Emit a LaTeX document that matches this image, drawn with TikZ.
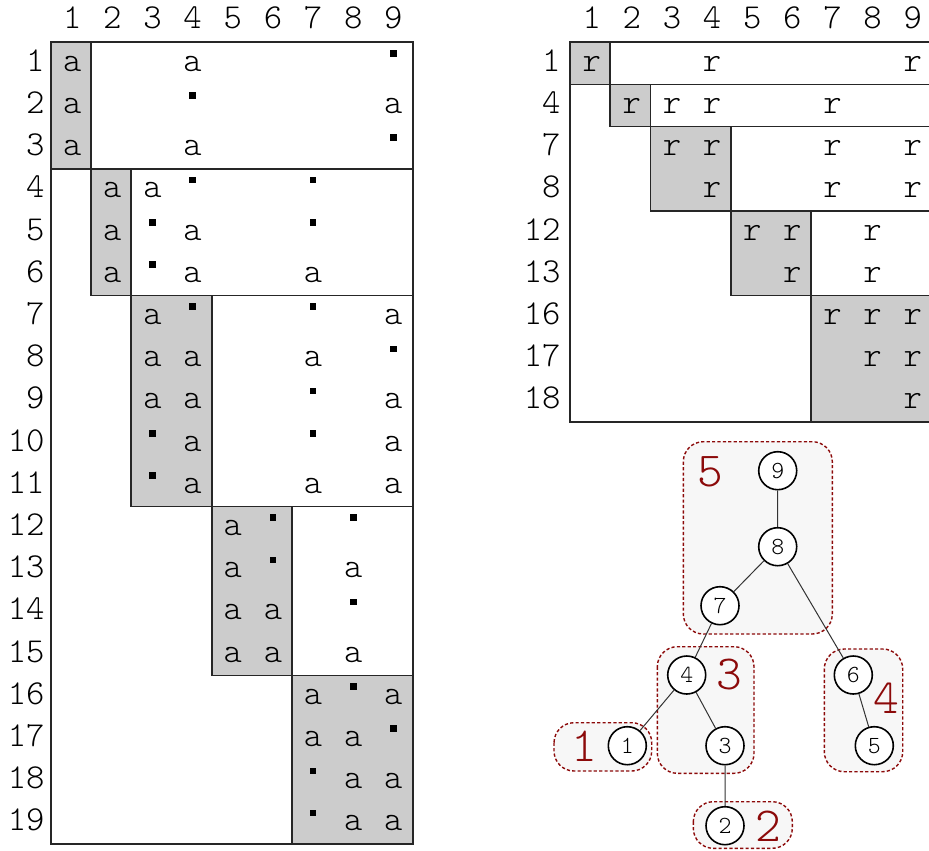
\documentclass[tikz,border=0pt]{standalone}
\usetikzlibrary{positioning,backgrounds}
\definecolor{blockgray}{gray}{0.8}
\definecolor{grpred}{RGB}{140,10,10}
\definecolor{grpfill}{gray}{0.97}
\definecolor{rule}{gray}{0.15}
\tikzset{
  ent/.style={font=\ttfamily\fontseries{l}\fontsize{17.5}{17.5}\selectfont,inner sep=0pt,anchor=base},
  rowlbl/.style={ent,anchor=base east},
  sqdot/.style={fill=black,inner sep=0pt,minimum size=3.3pt},
  band/.style={draw=rule,line width=0.8pt},
  vtx/.style={circle,draw=black,fill=white,line width=0.8pt,minimum size=19pt,inner sep=0pt,
    font=\ttfamily\fontseries{l}\fontsize{12.3}{12.3}\selectfont},
  tedge/.style={draw=black!80,line width=0.5pt},
  grp/.style={draw=grpred,dash pattern=on 1.6pt off 1.1pt,line width=0.7pt,fill=grpfill,rounded corners=10pt},
  grplbl/.style={text=grpred,inner sep=0pt,font=\ttfamily\fontseries{l}\fontsize{24.5}{24.5}\selectfont},
}

\begin{document}
\begin{tikzpicture}[x=0.5pt,y=-0.5pt,on grid]
  \clip (0,0) rectangle (929,850);

  % left matrix: supernode blocks
  \foreach \rs/\re/\cs/\ce in {1/3/1/1,4/6/2/2,7/11/3/4,12/15/5/6,16/19/7/9}{
    \fill[blockgray] ({50.75+40.25*(\cs-1)},{42.3+42.2*(\rs-1)}) rectangle ({50.75+40.25*\ce},{42.3+42.2*\re});
    \draw[band] ({50.75+40.25*(\cs-1)},{42.3+42.2*(\rs-1)}) rectangle ({50.75+40.25*9},{42.3+42.2*\re});
    \draw[band] ({50.75+40.25*\ce},{42.3+42.2*(\rs-1)}) -- ++(0,{42.2*(\re-\rs+1)});
  }
  \draw[band] (50.75,42.3) -- (50.75,844.1) -- (413,844.1);

  \foreach \c in {1,...,9}
    \node[ent] (hl-\c) at ({72.2+40.15*(\c-1)},28.3) {\c};
  \foreach \r in {1,...,19}
    \node[rowlbl] (rl-\r) at (45,{29+42.2*\r}) {\r};
  \foreach \r/\c in {1/1,1/4,2/1,2/9,3/1,3/4,4/2,4/3,5/2,5/4,6/2,6/4,6/7,7/3,7/9,8/3,8/4,8/7,
      9/3,9/4,9/9,10/4,10/9,11/4,11/7,11/9,12/5,13/5,13/8,14/5,14/6,15/5,15/6,15/8,
      16/7,16/9,17/7,17/8,18/8,18/9,19/8,19/9}
    \node[ent] (L-\r-\c) at ({72.2+40.15*(\c-1)},{29+42.2*\r}) {a};
  \foreach \r/\c in {1/9,2/4,3/9,4/4,4/7,5/3,5/7,6/3,7/4,7/7,8/9,9/7,10/3,10/7,11/3,
      12/6,12/8,13/6,14/8,16/8,17/9,18/7,19/7}
    \node[sqdot] (L-\r-\c) at ({72.2+40.15*(\c-1)},{11.2+42.2*\r}) {};

  % right matrix
  \foreach \rs/\re/\cs/\ce in {1/1/1/1,2/2/2/2,3/4/3/4,5/6/5/6,7/9/7/9}{
    \fill[blockgray] ({570+40.2*(\cs-1)},{42.3+42.2*(\rs-1)}) rectangle ({570+40.2*\ce},{42.3+42.2*\re});
    \draw[band] ({570+40.2*(\cs-1)},{42.3+42.2*(\rs-1)}) rectangle ({570+40.2*9},{42.3+42.2*\re});
    \draw[band] ({570+40.2*\ce},{42.3+42.2*(\rs-1)}) -- ++(0,{42.2*(\re-\rs+1)});
  }
  \draw[band] (570,42.3) -- (570,422.1) -- (932,422.1);

  \foreach \c in {1,...,9}
    \node[ent] (hr-\c) at ({591.7+40.13*(\c-1)},28.3) {\c};
  \foreach \lbl [count=\r] in {1,4,7,8,12,13,16,17,18}
    \node[rowlbl] (rr-\r) at (561,{29+42.2*\r}) {\lbl};
  \foreach \r/\c in {1/1,1/4,1/9,2/2,2/3,2/4,2/7,3/3,3/4,3/7,3/9,4/4,4/7,4/9,
      5/5,5/6,5/8,6/6,6/8,7/7,7/8,7/9,8/8,8/9,9/9}
    \node[ent] (R-\r-\c) at ({591.7+40.13*(\c-1)},{29+42.2*\r}) {r};

  % elimination tree
  \node[vtx] (v9) at (777.7,470.7) {9};
  \node[vtx] (v8) [below=38pt of v9] {8};
  \node[vtx] (v7) [below left=29.5pt and 28.85pt of v8] {7};
  \node[vtx] (v6) [below right=64.15pt and 37.8pt of v8] {6};
  \node[vtx] (v4) [below left=34.65pt and 16.65pt of v7] {4};
  \node[vtx] (v1) [below left=35.35pt and 29.7pt of v4] {1};
  \node[vtx] (v3) [below right=35.35pt and 19.15pt of v4] {3};
  \node[vtx] (v5) [below right=35.35pt and 10.5pt of v6] {5};
  \node[vtx] (v2) [below=40pt of v3] {2};
  \begin{scope}[on background layer]
    \draw[grp] (683.3,441.7) rectangle (832.3,634);
    \draw[grp] (657.3,646.7) rectangle (754,773.3);
    \draw[grp] (824.3,649) rectangle (902.7,771.7);
    \draw[grp] (554,722.7) rectangle (651.7,771);
    \draw[grp] (693.3,801.7) rectangle (792.3,848.3);
    \draw[tedge] (v9) -- (v8) (v8) -- (v7) (v8) -- (v6) (v7) -- (v4)
      (v4) -- (v1) (v4) -- (v3) (v6) -- (v5) (v3) -- (v2);
  \end{scope}
  \node[grplbl] (g5) at (710.7,471.7) {5};
  \node[grplbl] (g3) at (729,675) {3};
  \node[grplbl] (g4) at (886.7,698.3) {4};
  \node[grplbl] (g1) at (584.3,746.7) {1};
  \node[grplbl] (g2) at (768.3,826.7) {2};
\end{tikzpicture}
\end{document}
